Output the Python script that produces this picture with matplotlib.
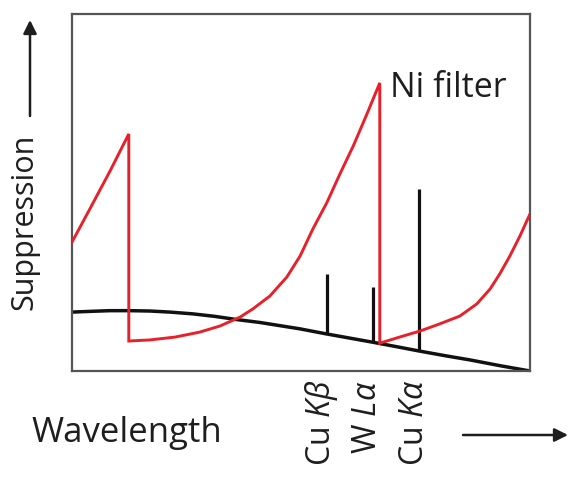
import matplotlib
matplotlib.use('Agg')
import matplotlib.pyplot as plt
import matplotlib.transforms as mtransforms

# --- data (arbitrary wavelength / suppression units, axes span 0..100) ---
# continuous spectrum (background)
cont_x = [0, 3.9, 8.3, 12.7, 17.0, 21.4, 26.4, 31.2, 36.0, 41.0, 45.4,
          49.8, 55.5, 60.7, 65.5, 70.5, 75.8, 81.4, 86.9, 93.4, 100]
cont_y = [16.5, 16.7, 16.9, 16.9, 16.8, 16.5, 16.0, 15.3, 14.4, 13.6, 12.7,
          11.8, 10.4, 9.2, 8.1, 6.9, 5.6, 4.3, 3.1, 1.5, 0]

# Ni filter absorption (two absorption edges)
ni_x = [0, 3.9, 8.3, 12.4,
        12.4, 17.0, 22.5, 27.9, 32.3, 36.7, 39.5, 43.2, 46.9, 49.8, 52.6,
        55.7, 58.5, 61.4, 64.4, 67.2,
        67.2, 72.3, 76.0, 80.3, 84.7, 88.4, 91.3, 93.4, 95.6, 97.8, 100]
ni_y = [36.1, 45.4, 56.0, 66.4,
        8.4, 8.7, 9.5, 10.9, 12.6, 15.1, 17.4, 21.0, 26.3, 32.2, 39.8,
        47.3, 55.2, 63.0, 72.0, 80.7,
        7.8, 9.8, 11.2, 13.2, 15.4, 18.8, 23.0, 27.2, 32.2, 37.8, 44.0]

# characteristic lines
line_names = ["Cu $K\\beta$", "W $L\\alpha$", "Cu $K\\alpha$"]
line_x = [55.6, 65.7, 75.8]
line_base = [10.4, 8.1, 5.6]
line_top = [27.2, 23.5, 51.0]

plt.rcParams['font.family'] = ['Open Sans', 'DejaVu Sans']
plt.rcParams['mathtext.fontset'] = 'custom'
plt.rcParams['mathtext.rm'] = 'Open Sans'
plt.rcParams['mathtext.it'] = 'Open Sans:italic'

txt = '#1e1e1e'
red = '#e8202a'

fig = plt.figure(figsize=(5.69, 4.81), dpi=100)
ax = fig.add_axes([72 / 569, 109 / 481, 458 / 569, 357 / 481])

ax.plot(cont_x, cont_y, color='#111111', lw=2.5, solid_capstyle='butt', zorder=2)
ax.vlines(line_x, line_base, line_top, color='#111111', lw=2.3, zorder=2)
ax.plot(ni_x, ni_y, color=red, lw=2.1, solid_joinstyle='miter', zorder=3)

ax.text(69.4, 79.6, "Ni filter", fontsize=24.5, color=txt, ha='left', va='center')

ax.set_xlim(0, 100)
ax.set_ylim(0, 100)
ax.set_xticks(line_x)
ax.set_xticklabels(line_names, rotation=90, fontsize=23, color=txt)
ax.tick_params(axis='x', length=0, pad=6)
ax.set_yticks([])
# labels sit a little left of their lines in the original
shift = mtransforms.ScaledTranslation(-5 / 100, 0, fig.dpi_scale_trans)
for lab in ax.get_xticklabels():
    lab.set_transform(lab.get_transform() + shift)
for s in ax.spines.values():
    s.set_color('#555555')
    s.set_linewidth(1.6)

# axis captions with arrows
fig.text(31 / 569, 1 - 433 / 481, "Wavelength", fontsize=25, color=txt,
         ha='left', va='center')
fig.text(24 / 569, 1 - 222 / 481, "Suppression", fontsize=22, color=txt,
         rotation=90, ha='center', va='center')
arrow = dict(arrowstyle='-|>', mutation_scale=20, lw=1.8, color=txt,
             shrinkA=0, shrinkB=0)
ax.annotate("", xy=(568, 481 - 436), xytext=(463, 481 - 436),
            xycoords='figure pixels', textcoords='figure pixels',
            arrowprops=arrow, annotation_clip=False)
ax.annotate("", xy=(30, 481 - 21), xytext=(30, 481 - 117),
            xycoords='figure pixels', textcoords='figure pixels',
            arrowprops=arrow, annotation_clip=False)

fig.savefig("out.png", dpi=100)
